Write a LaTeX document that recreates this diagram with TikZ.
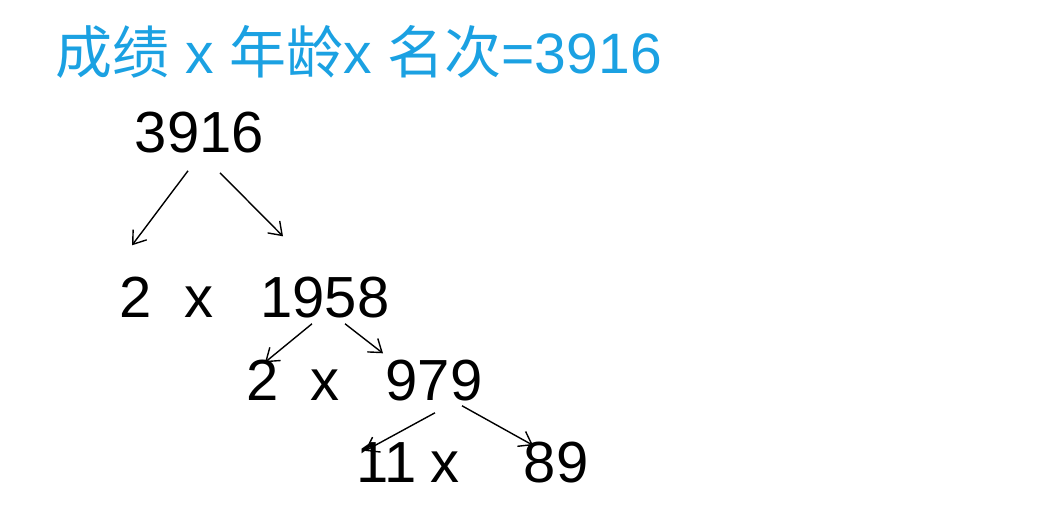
\documentclass[tikz,border=0pt]{standalone}
\usepackage{fontspec}
\setmainfont{Liberation Sans}
\newfontfamily\cjk{Noto Sans CJK SC}
\usepackage{tikz}
\usetikzlibrary{arrows.meta}
\definecolor{titleblue}{RGB}{27,161,226}

\tikzset{
  num/.style={font=\fontsize{58}{60}\selectfont, inner sep=0pt, anchor=base},
  arr/.style={-{Straight Barb[length=12pt,width=17pt]}, line width=1.4pt}
}

\begin{document}
\begin{tikzpicture}[x=1pt,y=-1pt]
   \useasboundingbox (0,0) rectangle (1056,512);

   % title
   \node[inner sep=0pt, anchor=base west, text=titleblue,
         font=\fontsize{57}{60}\selectfont] (title) at (55,73)
         {{\cjk 成绩} x {\cjk 年龄}x {\cjk 名次}=3916};

   % factor tree
   \node[num] (top) at (199.5,152) {3916};

   \node[num] (twoA) at (136,317) {2};
   \node[num] (xA) at (198.5,317) {x};
   \node[num] (nA) at (325,317) {1958};

   \node[num] (twoB) at (262.5,400) {2};
   \node[num] (xB) at (325,400) {x};
   \node[num] (nB) at (434,400) {979};

   \node[num] (elevenC) at (387,482) {11};
   \node[num] (xC) at (445,482) {x};
   \node[num] (nC) at (556,482) {89};

   \draw[arr] ([xshift=-11.5pt,yshift=-18pt]top.south) -- ([xshift=-4pt,yshift=31pt]twoA.north);
   \draw[arr] ([xshift=20.5pt,yshift=-20pt]top.south) -- ([xshift=-42pt,yshift=40pt]nA.north);

   \draw[arr] ([xshift=-13pt,yshift=-6pt]nA.south) -- ([xshift=2.5pt,yshift=-3pt]twoB.north);
   \draw[arr] ([xshift=20pt,yshift=-6pt]nA.south) -- ([xshift=-51pt,yshift=6pt]nB.north);

   \draw[arr] ([xshift=1pt,yshift=-12pt]nB.south) -- ([xshift=-22pt,yshift=-9pt]elevenC.north);
   \draw[arr] ([xshift=28pt,yshift=-5pt]nB.south) -- ([xshift=-23pt,yshift=-4pt]nC.north);
\end{tikzpicture}
\end{document}
